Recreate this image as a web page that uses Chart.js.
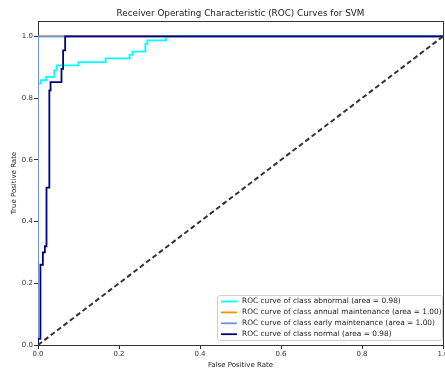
<!DOCTYPE html>
<html>
<head>
<meta charset="utf-8">
<script src="https://cdn.jsdelivr.net/npm/chart.js@4.4.1/dist/chart.umd.min.js"></script>
<style>
  html, body { margin: 0; padding: 0; background: #fff; overflow: hidden; }
  #wrap { width: 452px; height: 369px; }
</style>
</head>
<body>
<div id="wrap"><canvas id="rocChart" width="452" height="369"></canvas></div>
<script>
// ROC curves (false positive rate / true positive rate)
const classNames = ["abnormal", "annual maintenance", "early maintenance", "normal"];
const aucValues = ["0.98", "1.00", "1.00", "0.98"];
const lineColors = ["#00ffff", "#ff8c00", "#6495ed", "#000080"];
const chartTitle = "Receiver Operating Characteristic (ROC) Curves for SVM";

const abnormalFpr = [0, 0, 0.007, 0.007, 0.02, 0.02, 0.04, 0.04, 0.046, 0.046, 0.10, 0.10, 0.167, 0.167, 0.226, 0.226, 0.233, 0.233, 0.265, 0.265, 0.27, 0.27, 0.316, 0.316, 1];
const abnormalTpr = [0, 0.847, 0.847, 0.858, 0.858, 0.869, 0.869, 0.89, 0.89, 0.906, 0.906, 0.917, 0.917, 0.929, 0.929, 0.94, 0.94, 0.951, 0.951, 0.976, 0.976, 0.987, 0.987, 1, 1];

const annualFpr = [0, 0, 1];
const annualTpr = [0, 1, 1];

const earlyFpr = [0, 0, 1];
const earlyTpr = [0, 1, 1];

const normalFpr = [0, 0, 0.006, 0.006, 0.012, 0.012, 0.017, 0.017, 0.021, 0.021, 0.028, 0.028, 0.031, 0.031, 0.058, 0.058, 0.062, 0.062, 0.067, 0.067, 1];
const normalTpr = [0, 0.02, 0.02, 0.26, 0.26, 0.30, 0.30, 0.32, 0.32, 0.51, 0.51, 0.825, 0.825, 0.852, 0.852, 0.895, 0.895, 0.955, 0.955, 1, 1];

const chanceFpr = [0, 1];
const chanceTpr = [0, 1];

const xTicks = [0, 0.2, 0.4, 0.6, 0.8, 1];
const yTicks = [0, 0.2, 0.4, 0.6, 0.8, 1.0];

function toPoints(xs, ys) {
    return xs.map((x, i) => ({ x: x, y: ys[i] }));
}

const curves = [
    [abnormalFpr, abnormalTpr],
    [annualFpr, annualTpr],
    [earlyFpr, earlyTpr],
    [normalFpr, normalTpr],
];

const rocDatasets = curves.map((c, i) => ({
    label: "ROC curve of class " + classNames[i] + " (area = " + aucValues[i] + ")",
    data: toPoints(c[0], c[1]),
    borderColor: lineColors[i],
    borderWidth: 1.8,
    pointRadius: 0,
    fill: false,
    tension: 0,
    order: 4 - i, // later classes drawn on top, like matplotlib
}));

rocDatasets.push({
    label: "chance",
    data: toPoints(chanceFpr, chanceTpr),
    borderColor: "#333333",
    borderWidth: 2,
    borderDash: [5, 3],
    pointRadius: 0,
    fill: false,
    order: 0,
});

const FONT = "'DejaVu Sans', sans-serif";

// frame under the lines, title over the plot, legend inside the lower right corner
const frameAndLegend = {
    id: "frameAndLegend",
    beforeDatasetsDraw(chart) {
        const ctx = chart.ctx;
        const a = chart.chartArea;
        ctx.save();
        ctx.strokeStyle = "#333";
        ctx.lineWidth = 1;
        ctx.strokeRect(a.left + 0.5, a.top + 0.5, a.right - a.left, a.bottom - a.top);
        ctx.restore();
    },
    afterDraw(chart) {
        const ctx = chart.ctx;
        const a = chart.chartArea;
        ctx.save();
        ctx.font = "8.8px " + FONT;
        ctx.fillStyle = "#222";
        ctx.textAlign = "center";
        ctx.textBaseline = "middle";
        ctx.fillText(chartTitle, (a.left + a.right) / 2, 14);

        const boxL = 217, boxT = 295, boxR = 442, boxB = 340;
        ctx.fillStyle = "rgba(255,255,255,0.85)";
        ctx.strokeStyle = "#d0d0d0";
        ctx.beginPath();
        ctx.roundRect(boxL + 0.5, boxT + 0.5, boxR - boxL, boxB - boxT, 2);
        ctx.fill();
        ctx.stroke();

        ctx.font = "7.4px " + FONT;
        ctx.textAlign = "left";
        for (let i = 0; i < 4; i++) {
            const y = 301.5 + i * 10.9;
            ctx.strokeStyle = lineColors[i];
            ctx.lineWidth = 1.8;
            ctx.beginPath();
            ctx.moveTo(221, y);
            ctx.lineTo(237, y);
            ctx.stroke();
            ctx.fillStyle = "#222";
            ctx.fillText(rocDatasets[i].label, 242, y);
        }
        ctx.restore();
    },
};

new Chart(document.getElementById("rocChart").getContext("2d"), {
    type: "line",
    data: { datasets: rocDatasets },
    options: {
        responsive: false,
        animation: false,
        layout: { padding: { left: 0, right: 9, top: 21, bottom: 0 } },
        plugins: {
            legend: { display: false },
            tooltip: { enabled: false },
            title: { display: false },
        },
        scales: {
            x: {
                type: "linear",
                min: 0,
                max: 1,
                afterBuildTicks: (s) => { s.ticks = xTicks.map(v => ({ value: v })); },
                afterFit: (s) => { s.height = 24; },
                ticks: {
                    color: "#333",
                    font: { family: FONT, size: 7 },
                    padding: 1,
                    maxRotation: 0,
                    callback: (v) => (v === 1 ? "1.0" : v.toFixed(1)),
                },
                grid: { drawOnChartArea: false, tickLength: 4, color: "#333" },
                border: { color: "#333" },
                title: {
                    display: true,
                    text: "False Positive Rate",
                    color: "#222",
                    font: { family: FONT, size: 7 },
                    padding: { top: 1, bottom: 0 },
                },
            },
            y: {
                min: 0,
                max: 1.05,
                afterBuildTicks: (s) => { s.ticks = yTicks.map(v => ({ value: v })); },
                afterFit: (s) => { s.width = 38; },
                ticks: {
                    color: "#333",
                    font: { family: FONT, size: 7 },
                    padding: 1,
                    callback: (v) => v.toFixed(1),
                },
                grid: { drawOnChartArea: false, tickLength: 4, color: "#333" },
                border: { color: "#333" },
                title: {
                    display: true,
                    text: "True Positive Rate",
                    color: "#222",
                    font: { family: FONT, size: 7 },
                    padding: { top: 10, bottom: 2 },
                },
            },
        },
    },
    plugins: [frameAndLegend],
});
</script>
</body>
</html>
